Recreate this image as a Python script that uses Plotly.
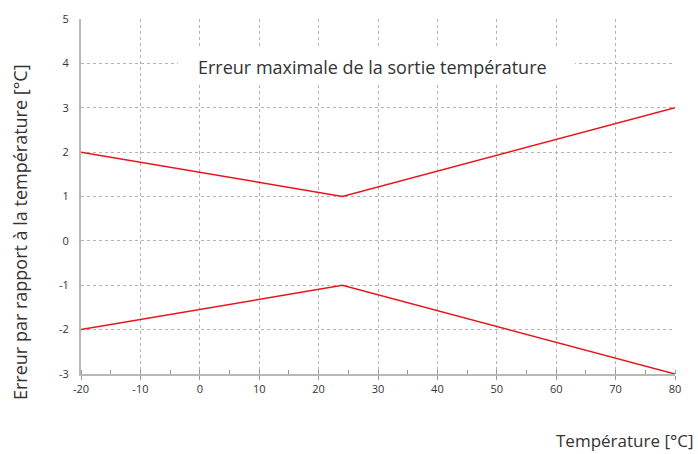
import plotly.graph_objects as go

temps = [-20, 24, 80]
upper_err = [2, 1, 3]
lower_err = [-2, -1, -3]
x_ticks = [-20, -10, 0, 10, 20, 30, 40, 50, 60, 70, 80]
y_ticks = [-3, -2, -1, 0, 1, 2, 3, 4, 5]

red = "#e8141c"
fig = go.Figure()
fig.add_trace(go.Scatter(x=temps, y=upper_err, mode="lines", line=dict(color=red, width=1.5), showlegend=False))
fig.add_trace(go.Scatter(x=temps, y=lower_err, mode="lines", line=dict(color=red, width=1.5), showlegend=False))

W, H = 698, 454
L, R, T, B = 81, 23, 19, 80
pw, ph = W - L - R, H - T - B


def px(xs):
    return (xs - L) / pw


def py(ys):
    return (H - B - ys) / ph


grid = "#b4b4b4"
fig.update_layout(
    width=W, height=H,
    margin=dict(l=L, r=R, t=T, b=B, autoexpand=False),
    plot_bgcolor="white", paper_bgcolor="white",
    font=dict(family="Open Sans", color="#333333", size=11),
    xaxis=dict(range=[-20, 80], tickvals=x_ticks, ticktext=[str(v) for v in x_ticks],
               showgrid=True, gridcolor=grid, griddash="dot", gridwidth=1,
               showline=True, linecolor="#b8b8b8", linewidth=2,
               ticks="outside", ticklen=4, tickcolor="#999999",
               minor=dict(dtick=5, ticks="inside", ticklen=4, tickcolor="#999999", showgrid=False),
               zeroline=False, tickfont=dict(size=11, color="#333333")),
    yaxis=dict(range=[-3, 5], tickvals=y_ticks, ticktext=[str(v) for v in y_ticks],
               showgrid=True, gridcolor=grid, griddash="dot", gridwidth=1,
               showline=True, linecolor="#b8b8b8", linewidth=2,
               ticks="", ticklabelstandoff=8,
               zeroline=False, tickfont=dict(size=11, color="#333333")),
)

fig.add_shape(type="rect", xref="paper", yref="paper", layer="above",
              x0=px(178), x1=px(575), y0=py(83), y1=py(46),
              fillcolor="white", line=dict(width=0))
fig.add_annotation(x=px(372), y=py(67), xref="paper", yref="paper",
                   text="Erreur maximale de la sortie température", showarrow=False,
                   font=dict(size=18, color="#333333", family="Open Sans"),
                   xanchor="center", yanchor="middle")
fig.add_annotation(x=px(696), y=py(440), xref="paper", yref="paper", xanchor="right", yanchor="middle",
                   text="Température [°C]", showarrow=False,
                   font=dict(size=17, color="#333333", family="Open Sans"))
fig.add_annotation(x=px(20), y=py(232), xref="paper", yref="paper",
                   text="Erreur par rapport à la température [°C]",
                   showarrow=False, textangle=-90, xanchor="center", yanchor="middle",
                   font=dict(size=18, color="#333333", family="Open Sans"))

fig.write_html("out.html", config={"displayModeBar": False},
               post_script="document.body.style.margin='0';document.body.style.padding='0';")
